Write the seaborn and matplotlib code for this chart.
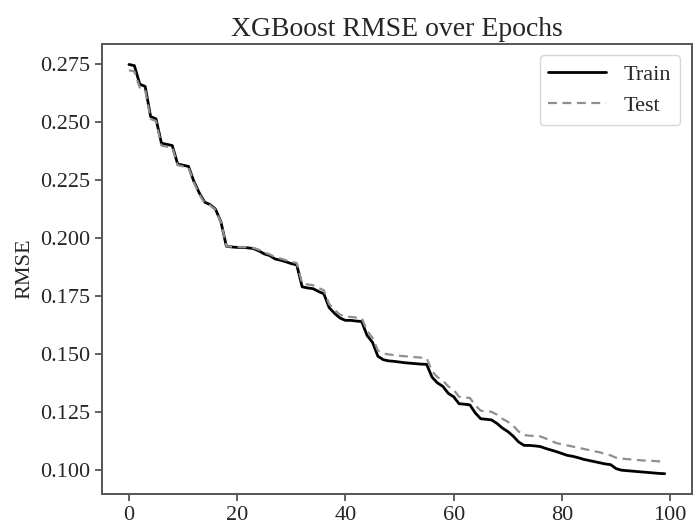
import numpy as np
import pandas as pd
import seaborn as sns
import matplotlib
matplotlib.use('Agg')
import matplotlib.pyplot as plt

# RMSE per boosting round
epochs = list(range(100))

train_rmse = [
    0.2750, 0.2745, 0.2665, 0.2655, 0.2525, 0.2515, 0.2410, 0.2405, 0.2400, 0.2320,
    0.2315, 0.2310, 0.2245, 0.2195, 0.2155, 0.2145, 0.2125, 0.2070, 0.1965, 0.1962,
    0.1960, 0.1960, 0.1958, 0.1955, 0.1945, 0.1932, 0.1925, 0.1910, 0.1905, 0.1898,
    0.1890, 0.1885, 0.1790, 0.1785, 0.1782, 0.1770, 0.1760, 0.1700, 0.1675, 0.1655,
    0.1645, 0.1645, 0.1642, 0.1640, 0.1580, 0.1550, 0.1490, 0.1475, 0.1470, 0.1468,
    0.1465, 0.1462, 0.1460, 0.1458, 0.1456, 0.1455, 0.1400, 0.1375, 0.1360, 0.1330,
    0.1315, 0.1285, 0.1283, 0.1280, 0.1245, 0.1220, 0.1218, 0.1215, 0.1200, 0.1180,
    0.1165, 0.1145, 0.1120, 0.1105, 0.1105, 0.1103, 0.1100, 0.1092, 0.1085, 0.1078,
    0.1070, 0.1062, 0.1058, 0.1052, 0.1045, 0.1040, 0.1035, 0.1030, 0.1025, 0.1022,
    0.1005, 0.0998, 0.0996, 0.0994, 0.0992, 0.0990, 0.0988, 0.0986, 0.0984, 0.0983,
]

test_rmse = [
    0.2725, 0.2720, 0.2650, 0.2640, 0.2515, 0.2505, 0.2400, 0.2395, 0.2392, 0.2315,
    0.2310, 0.2305, 0.2240, 0.2190, 0.2150, 0.2142, 0.2122, 0.2068, 0.1965, 0.1963,
    0.1962, 0.1962, 0.1960, 0.1958, 0.1950, 0.1938, 0.1930, 0.1918, 0.1912, 0.1905,
    0.1898, 0.1893, 0.1805, 0.1800, 0.1797, 0.1785, 0.1775, 0.1715, 0.1690, 0.1670,
    0.1660, 0.1660, 0.1657, 0.1655, 0.1600, 0.1570, 0.1515, 0.1502, 0.1498, 0.1495,
    0.1492, 0.1490, 0.1488, 0.1486, 0.1484, 0.1482, 0.1425, 0.1400, 0.1385, 0.1360,
    0.1345, 0.1315, 0.1312, 0.1310, 0.1278, 0.1255, 0.1252, 0.1250, 0.1238, 0.1220,
    0.1207, 0.1190, 0.1165, 0.1150, 0.1147, 0.1146, 0.1144, 0.1135, 0.1125, 0.1115,
    0.1110, 0.1105, 0.1100, 0.1095, 0.1090, 0.1085, 0.1080, 0.1075, 0.1068, 0.1062,
    0.1052, 0.1048, 0.1046, 0.1044, 0.1042, 0.1040, 0.1039, 0.1038, 0.1036, 0.1035,
]

sns.set_style('ticks')
# serif font like Times, set after the seaborn style
plt.rcParams['font.family'] = ['Liberation Serif', 'DejaVu Serif']
plt.rcParams['font.size'] = 16

fig = plt.figure(figsize=(6.95, 5.24), dpi=100)
ax = fig.add_axes([0.147, 0.057, 0.848, 0.859])

sns.lineplot(x=epochs, y=train_rmse, ax=ax, color='black', linewidth=2.0, label='Train')
sns.lineplot(x=epochs, y=test_rmse, ax=ax, color='#8f8f8f', linewidth=1.6,
             dashes=(4, 2.5), label='Test')

ax.set_title('XGBoost RMSE over Epochs', fontsize=20, pad=6)
ax.set_ylabel('RMSE', fontsize=16)
ax.set_xticks([0, 20, 40, 60, 80, 100])
ax.set_yticks([0.100, 0.125, 0.150, 0.175, 0.200, 0.225, 0.250, 0.275])
ax.yaxis.set_major_formatter(matplotlib.ticker.FormatStrFormatter('%.3f'))
ax.tick_params(labelsize=16, length=5, width=1.2, color='#444444')

for side in ['top', 'right', 'bottom', 'left']:
    ax.spines[side].set_visible(True)
    ax.spines[side].set_color('#555555')
    ax.spines[side].set_linewidth(1.4)

leg = ax.legend(loc='upper right', fontsize=16, frameon=True, handlelength=2.6)
leg.get_frame().set_edgecolor('#cccccc')

fig.savefig('out.png', dpi=100)
